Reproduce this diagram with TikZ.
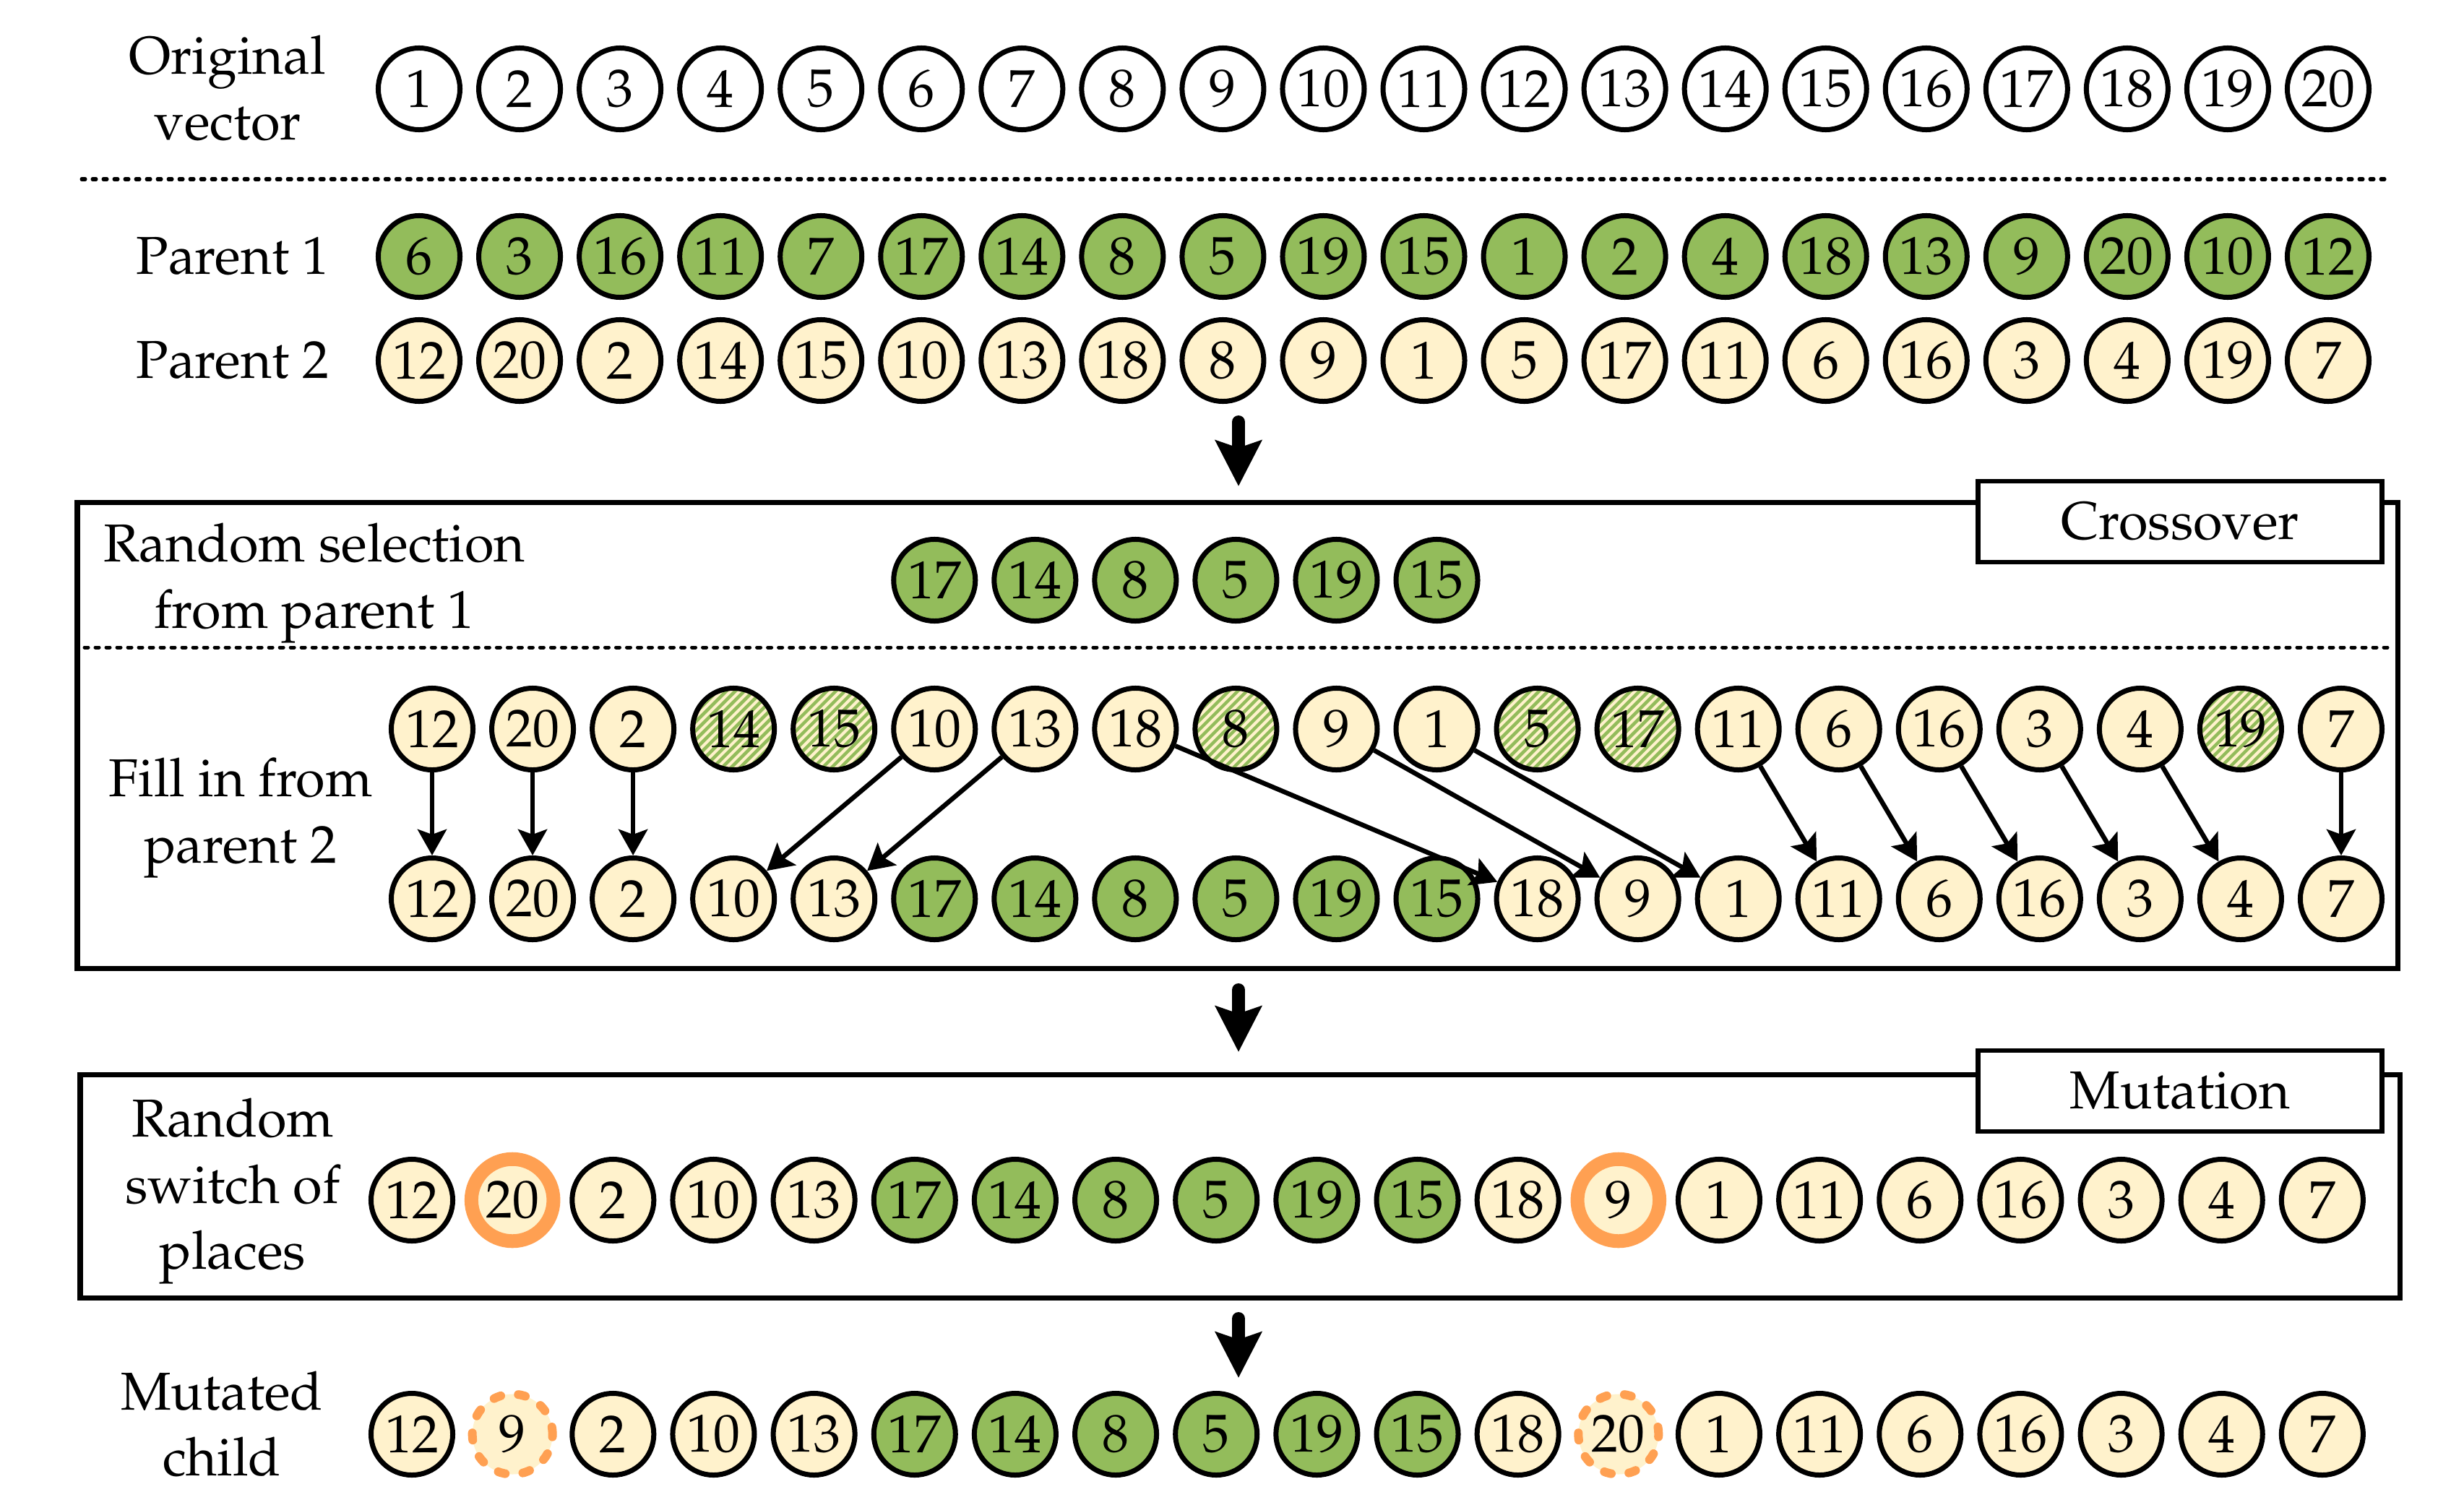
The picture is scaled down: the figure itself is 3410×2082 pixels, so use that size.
\documentclass[tikz,border=0pt]{standalone}
\usepackage[T1]{fontenc}
\usepackage{mathpazo}
\usetikzlibrary{arrows.meta,calc}
\definecolor{gfill}{HTML}{93BC5B}
\definecolor{cfill}{HTML}{FFF2CC}
\definecolor{ofill}{HTML}{FFA052}
\begin{document}
\begin{tikzpicture}[x=0.01cm,y=-0.01cm,
  every node/.style={font=\fontsize{21}{26}\selectfont},
  ball/.style={circle,draw,line width=0.07cm,minimum size=1.13cm,inner sep=0pt},
  gball/.style={ball,fill=gfill},
  cball/.style={ball,fill=cfill},
  wball/.style={ball,fill=white},
  hball/.style={ball,fill=cfill,path picture={
      \foreach \k in {-13,...,13}{
        \draw[gfill,line width=0.045cm] ($(path picture bounding box.center)+(\k*12.5-80,80)$) -- ++(160,-160);}}},
  oball/.style={circle,draw=ofill,line width=0.19cm,fill=cfill,minimum size=1.135cm,inner sep=0pt},
  dball/.style={circle,draw=ofill,line width=0.12cm,dash pattern=on 0.1cm off 0.245cm,line cap=round,fill=cfill,minimum size=1.11cm,inner sep=0pt},
  lbl/.style={align=center},
  tagbox/.style={draw,fill=white,line width=0.065cm,minimum width=5.59cm,minimum height=1.12cm,inner sep=0pt},
  boxline/.style={line width=0.07cm},
  dotline/.style={line width=0.05cm,dash pattern=on 0.05cm off 0.1cm,line cap=round},
  conn/.style={line width=0.065cm,-{Stealth[length=0.36cm,width=0.40cm,inset=0.07cm]}},
  flowarrow/.style={line width=0.18cm,line cap=round,-{Stealth[length=0.63cm,width=0.63cm,inset=0.1cm]}},
]
\useasboundingbox (0,0) rectangle (3410,2082);

% labels
\node[lbl] (tOrig) at (315,122) {Original\\vector};
\node (tP1) at (322,355) {Parent 1};
\node (tP2) at (322,499) {Parent 2};
\node[lbl] (tSel) at (435,807) {Random selection\\from parent 1};
\node[lbl] (tFill) at (333,1132) {Fill in from\\parent 2};
\node[lbl] (tSwitch) at (322,1649) {Random\\switch of\\places};
\node[lbl] (tMut) at (307,1971) {Mutated\\child};

% original vector
\foreach \v [count=\i from 0] in {1,...,20}
  \node[wball] (o\i) at (580+\i*139.05,123) {\v};

\draw[dotline] (113,248) -- (3310,248);

% parents
\foreach \v [count=\i from 0] in {6,3,16,11,7,17,14,8,5,19,15,1,2,4,18,13,9,20,10,12}
  \node[gball] (pa\i) at (580+\i*139.05,355) {\v};
\foreach \v [count=\i from 0] in {12,20,2,14,15,10,13,18,8,9,1,5,17,11,6,16,3,4,19,7}
  \node[cball] (pb\i) at (580+\i*139.05,499) {\v};

% arrow 1
\coordinate (a1s) at (1714,584);
\coordinate (a1e) at (1714,673);
\draw[flowarrow] (a1s) -- (a1e);

% crossover box
\draw[boxline] (107,695) rectangle (3318,1340);
\node[tagbox] (xover) at (3017,722) {Crossover};
\draw[dotline] (117,896) -- (3312,896);

\foreach \v [count=\i from 5] in {17,14,8,5,19,15}
  \node[gball] (s\i) at (598+\i*139.05,803) {\v};

\foreach \v/\s [count=\i from 0] in {12/cball,20/cball,2/cball,14/hball,15/hball,10/cball,13/cball,18/cball,8/hball,9/cball,1/cball,5/hball,17/hball,11/cball,6/cball,16/cball,3/cball,4/cball,19/hball,7/cball}
  \node[\s] (ft\i) at (598+\i*139.05,1009) {\v};
\foreach \v/\s [count=\i from 0] in {12/cball,20/cball,2/cball,10/cball,13/cball,17/gball,14/gball,8/gball,5/gball,19/gball,15/gball,18/cball,9/cball,1/cball,11/cball,6/cball,16/cball,3/cball,4/cball,7/cball}
  \node[\s] (fb\i) at (598+\i*139.05,1244) {\v};

\foreach \a/\b in {0/0,1/1,2/2,5/3,6/4,7/11,9/12,10/13,13/14,14/15,15/16,16/17,17/18,19/19}
  \draw[conn] (ft\a) -- (fb\b);

% arrow 2
\coordinate (a2s) at (1714,1370);
\coordinate (a2e) at (1714,1456);
\draw[flowarrow] (a2s) -- (a2e);

% mutation box
\draw[boxline] (111,1487) rectangle (3321,1796);
\node[tagbox] (mut) at (3017,1510) {Mutation};

\foreach \v/\s [count=\i from 0] in {12/cball,20/oball,2/cball,10/cball,13/cball,17/gball,14/gball,8/gball,5/gball,19/gball,15/gball,18/cball,9/oball,1/cball,11/cball,6/cball,16/cball,3/cball,4/cball,7/cball}
  \node[\s] (m\i) at (570+\i*139.15,1661) {\v};

% arrow 3
\coordinate (a3s) at (1714,1825);
\coordinate (a3e) at (1714,1907);
\draw[flowarrow] (a3s) -- (a3e);

\foreach \v/\s [count=\i from 0] in {12/cball,9/dball,2/cball,10/cball,13/cball,17/gball,14/gball,8/gball,5/gball,19/gball,15/gball,18/cball,20/dball,1/cball,11/cball,6/cball,16/cball,3/cball,4/cball,7/cball}
  \node[\s] (c\i) at (570+\i*139.15,1985) {\v};
\end{tikzpicture}
\end{document}
